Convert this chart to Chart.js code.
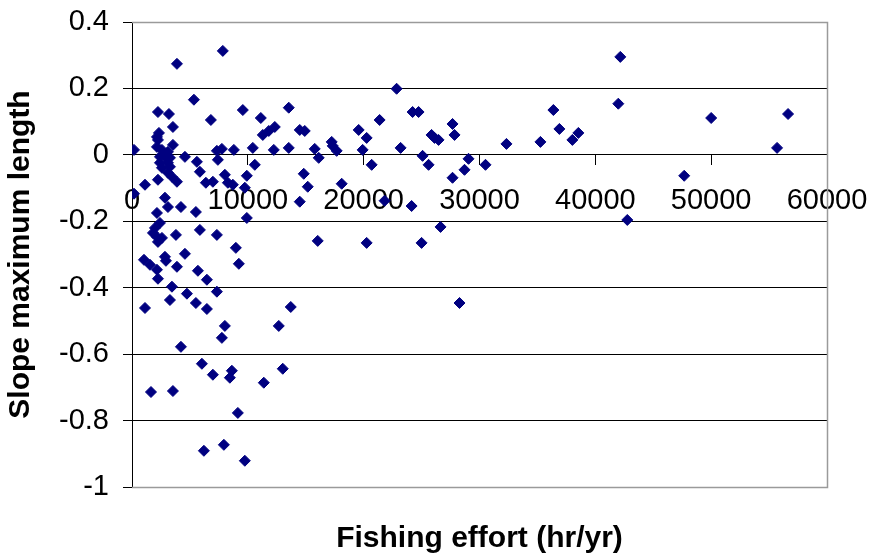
<!DOCTYPE html>
<html>
<head>
<meta charset="utf-8">
<script src="https://cdn.jsdelivr.net/npm/chart.js@4.4.1/dist/chart.umd.min.js"></script>
<style>
  body { margin: 0; background: #fff; }
</style>
</head>
<body>
<canvas id="scatter-chart" width="873" height="559"></canvas>
<script>
// fishing effort (hr/yr) for each stock
const effort = [
  3880, 7840, 5345, 2241, 3190, 3534, 6810, 9569, 11121, 13534,
  2328, 2241, 2155, 11293, 11810, 12328, 14483, 14914, 172, 2155,
  3534, 4569, 7328, 7759, 8793, 10431, 12241, 13534, 15776, 5603,
  5862, 7414, 10603, 9914, 14828, 2586, 3103, 2414, 2845, 3276,
  2414, 3103, 2586, 3276, 3103, 3448, 3879, 2241, 1121, 6379,
  6983, 8017, 8276, 8707, 9741, 14483, 15172, 172, 2845, 3103,
  4224, 5517, 2155, 9914, 2414, 1983, 1810, 2155, 2586, 2241,
  3793, 5862, 7328, 16034, 8966, 4569, 2845, 1034, 1552, 2155,
  2931, 9224, 3879, 5690, 2241, 6466, 3448, 4741, 3276, 7328,
  5517, 6466, 1121, 13707, 12672, 8017, 7759, 4224, 6034, 6983,
  8621, 8448, 13017, 11379, 1638, 3534, 9138, 7931, 6207, 9741,
  22845, 24224, 24741, 21379, 19569, 20259, 27672, 27845, 25862, 26121,
  26466, 17241, 17328, 17672, 16121, 19914, 23190, 32328, 35259, 25086,
  25603, 29052, 28707, 27672, 30517, 20690, 18103, 21810, 24138, 26638,
  20259, 25000, 28276, 36379, 42155, 41983, 36897, 38017, 38534, 50000,
  56638, 55690, 47672, 42759
];

// slope of maximum length for the same stocks
const slope = [
  0.274, 0.313, 0.166, 0.129, 0.123, 0.084, 0.105, 0.135, 0.111, 0.142,
  0.066, 0.045, 0.054, 0.060, 0.072, 0.084, 0.075, 0.072, 0.015, 0.024,
  0.030, -0.006, 0.012, 0.018, 0.015, 0.021, 0.015, 0.021, 0.018, -0.021,
  -0.051, -0.015, -0.030, -0.063, -0.057, 0.015, 0.009, -0.006, -0.006, -0.009,
  -0.024, -0.024, -0.039, -0.036, -0.054, -0.066, -0.081, -0.075, -0.090, -0.084,
  -0.081, -0.060, -0.084, -0.090, -0.099, -0.141, -0.096, -0.117, -0.129, -0.157,
  -0.157, -0.172, -0.175, -0.190, -0.205, -0.220, -0.235, -0.247, -0.250, -0.262,
  -0.241, -0.226, -0.241, -0.259, -0.280, -0.298, -0.307, -0.316, -0.331, -0.346,
  -0.319, -0.328, -0.337, -0.349, -0.373, -0.376, -0.397, -0.418, -0.437, -0.412,
  -0.446, -0.464, -0.461, -0.458, -0.515, -0.515, -0.551, -0.578, -0.629, -0.662,
  -0.650, -0.671, -0.644, -0.686, -0.714, -0.711, -0.777, -0.873, -0.891, -0.921,
  0.199, 0.129, 0.129, 0.105, 0.075, 0.051, 0.093, 0.060, 0.060, 0.051,
  0.045, 0.039, 0.027, 0.012, -0.009, 0.015, 0.021, 0.033, 0.039, -0.003,
  -0.030, -0.012, -0.045, -0.069, -0.030, -0.030, -0.087, -0.138, -0.154, -0.217,
  -0.265, -0.265, -0.446, 0.135, 0.295, 0.154, 0.078, 0.045, 0.066, 0.111,
  0.123, 0.021, -0.063, -0.196
];

const xTicks = [0, 10000, 20000, 30000, 40000, 50000, 60000];
const yTicks = [-1, -0.8, -0.6, -0.4, -0.2, 0, 0.2, 0.4];

const points = effort.map((x, i) => ({ x: x, y: slope[i] }));

const font = { family: "'Liberation Sans', Arial, sans-serif", size: 29 };
const boldFont = { family: "'Liberation Sans', Arial, sans-serif", size: 30, weight: 'bold' };

// grey frame round the plot area (top, right, bottom)
const plotFrame = {
  id: 'plotFrame',
  beforeDatasetsDraw(chart) {
    const { ctx, chartArea: a } = chart;
    ctx.save();
    ctx.strokeStyle = '#9a9a9a';
    ctx.lineWidth = 1.5;
    ctx.beginPath();
    ctx.moveTo(a.left, Math.round(a.top) + 0.5);
    ctx.lineTo(Math.round(a.right) + 0.5, Math.round(a.top) + 0.5);
    ctx.lineTo(Math.round(a.right) + 0.5, Math.round(a.bottom) + 0.5);
    ctx.lineTo(a.left, Math.round(a.bottom) + 0.5);
    ctx.stroke();
    ctx.restore();
  }
};

document.addEventListener('DOMContentLoaded', () => {
  const ctx = document.getElementById('scatter-chart').getContext('2d');
  new Chart(ctx, {
    type: 'scatter',
    data: {
      datasets: [{
        data: points,
        pointStyle: 'rectRot',
        pointRadius: 5.5,
        backgroundColor: '#000080',
        borderColor: '#000080',
        borderWidth: 1
      }]
    },
    plugins: [plotFrame],
    options: {
      responsive: false,
      animation: false,
      layout: { padding: { left: 0, right: 46, top: 22, bottom: 0 } },
      scales: {
        x: {
          type: 'linear',
          position: { y: 0 },
          min: 0,
          max: 60000,
          afterBuildTicks: scale => { scale.ticks = xTicks.map(v => ({ value: v })) },
          // keep the label overhang from shrinking the plot area
          afterFit: scale => { scale.paddingLeft = 0; scale.paddingRight = 0 },
          ticks: { color: '#000', font: font, padding: 19, maxRotation: 0, callback: v => String(v) },
          grid: { drawOnChartArea: false, color: '#000', tickLength: 10 },
          border: { color: '#000', width: 1 }
        },
        y: {
          min: -1,
          max: 0.4,
          afterBuildTicks: scale => { scale.ticks = yTicks.map(v => ({ value: v })) },
          afterFit: scale => {
            scale.width = 132
            scale.paddingTop = 0
            scale.paddingBottom = 0
          },
          ticks: { color: '#000', font: font, padding: 14, callback: v => String(v) },
          grid: { color: '#000', tickLength: 9 },
          border: { color: '#000', width: 1 },
          title: {
            display: true,
            text: 'Slope maximum length',
            color: '#000',
            font: boldFont,
            padding: { top: 3, bottom: 0 }
          }
        }
      },
      plugins: {
        legend: { display: false },
        tooltip: { enabled: false },
        title: {
          display: true,
          position: 'bottom',
          fullSize: false,
          text: 'Fishing effort (hr/yr)',
          color: '#000',
          font: boldFont,
          padding: { top: 34, bottom: 2 }
        }
      }
    }
  })
})
</script>
</body>
</html>
